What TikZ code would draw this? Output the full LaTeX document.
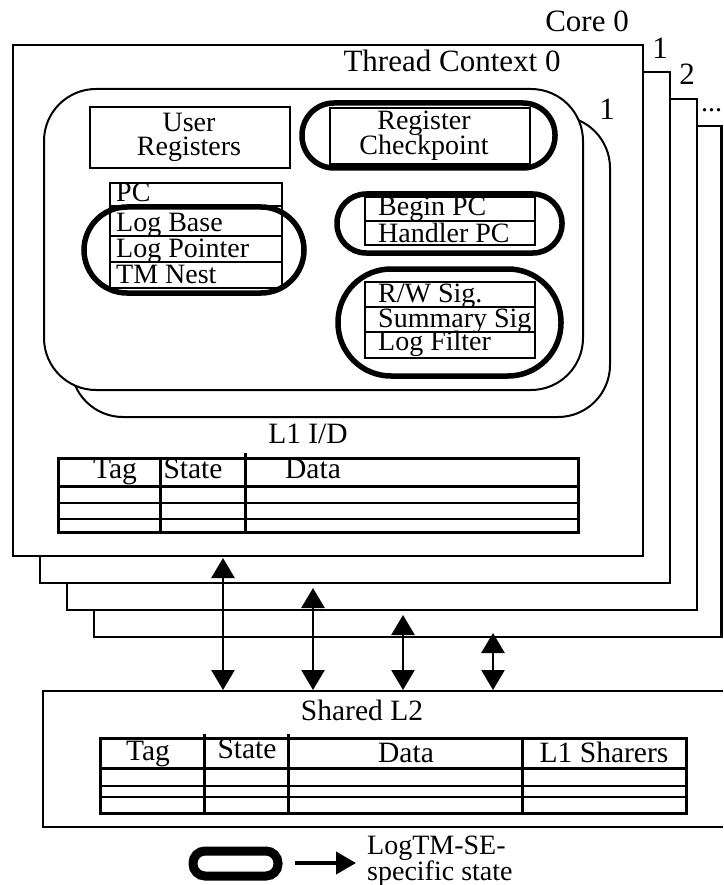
\documentclass[tikz,border=0pt]{standalone}
\usepackage{fontspec}
\setmainfont{Liberation Serif}
\usetikzlibrary{arrows.meta}
\begin{document}
\begin{tikzpicture}[x=1pt,y=-1pt,
  lbl/.style={font=\fontsize{28}{21}\selectfont, inner sep=0pt, anchor=base},
  lblw/.style={lbl, anchor=base west},
  biglbl/.style={lbl, font=\fontsize{31}{24}\selectfont},
  cachelbl/.style={lbl, font=\fontsize{29.5}{24}\selectfont},
  corebox/.style={draw=black, line width=2.2pt, fill=white},
  ctxbox/.style={draw=black, line width=2pt, fill=white, rounded corners=52pt},
  stbox/.style={draw=black, line width=2.2pt},
  rowline/.style={draw=black, line width=1.8pt},
  tblframe/.style={draw=black, line width=3pt},
  tblrow/.style={draw=black, line width=2pt},
  ltmoval/.style={draw=black, line width=5.5pt},
  bus/.style={draw=black, line width=2.8pt, {Triangle[length=20pt,width=23pt]}-{Triangle[length=20pt,width=23pt]}},
]
\useasboundingbox (0,0) rectangle (723,885);

% ---------- cores (back to front)
\draw[corebox] (94,126) rectangle (721.5,637);
\draw[corebox] (67,99) rectangle (697,610);
\draw[corebox] (40,72) rectangle (670,583);
\draw[corebox] (13,45) rectangle (643,556);

\node[biglbl] (core0lbl) at (587,32) {Core 0};
\node[biglbl] (core1lbl) at (660,59) {1};
\node[biglbl] (core2lbl) at (687,85) {2};
\node[lblw] (core3lbl) at (701,112) {...};

% ---------- thread contexts
\draw[ctxbox] (71,116) rectangle (610,417);
\draw[ctxbox] (44,89) rectangle (583,390);
\node[biglbl] (tc0lbl) at (452,72) {Thread Context 0};
\node[biglbl] (tc1lbl) at (607,120) {1};

% ---------- user registers
\draw[stbox] (90,107) rectangle (290,168);
\node[lbl] (ureg1) at (189,132) {User};
\node[lbl] (ureg2) at (189,156) {Registers};

% ---------- register checkpoint
\node[lbl] (rchk1) at (424,130) {Register};
\node[lbl] (rchk2) at (424,155) {Checkpoint};
\draw[stbox] (330,108) rectangle (530,164);
\draw[ltmoval, rounded corners=32pt] (302,103) rectangle (555,168);

% ---------- PC / log registers
\node[lblw] (pc) at (116,202) {PC};
\node[lblw] (logbase) at (116,232) {Log Base};
\node[lblw] (logptr) at (116,257) {Log Pointer};
\node[lblw] (tmnest) at (116,283) {TM Nest};
\draw[stbox] (110,183) rectangle (282,288);
\draw[rowline] (110,206) -- (282,206);
\draw[rowline] (110,236) -- (282,236);
\draw[rowline] (110,262) -- (282,262);
\draw[ltmoval, rounded corners=43pt] (84,207) rectangle (304,293);

% ---------- begin / handler PC
\node[lblw] (beginpc) at (378,216) {Begin PC};
\node[lblw] (handlerpc) at (378,242) {Handler PC};
\draw[stbox] (365,197) rectangle (535,245);
\draw[rowline] (365,221) -- (535,221);
\draw[ltmoval, rounded corners=29pt] (337,194) rectangle (562,253);

% ---------- signatures
\node[lblw] (rwsig) at (378,302) {R/W Sig.};
\node[lblw] (sumsig) at (378,327) {Summary Sig};
\node[lblw] (logfilter) at (378,350) {Log Filter};
\draw[stbox] (365,282) rectangle (535,358);
\draw[rowline] (365,307) -- (535,307);
\draw[rowline] (365,332) -- (535,332);
\draw[ltmoval, rounded corners=53pt] (338,269) rectangle (561,376);

% ---------- L1 cache
\node[cachelbl] (l1lbl) at (308,443) {L1 I/D};
\node[cachelbl] (l1tag) at (115,478) {Tag};
\node[cachelbl] (l1state) at (193,478) {State};
\node[cachelbl] (l1data) at (313,478) {Data};
\draw[tblframe] (58,458) rectangle (578,532);
\draw[tblframe] (58,486) -- (578,486);
\draw[tblrow] (58,503) -- (578,503);
\draw[tblrow] (58,519) -- (578,519);
\draw[tblframe] (160,458) -- (160,532);
\draw[tblframe] (245,453) -- (245,532);

% ---------- shared L2
\draw[line width=2.2pt] (723,691) -- (43,691) -- (43,827) -- (723,827);
\node[cachelbl] (l2lbl) at (362,720) {Shared L2};
\node[cachelbl] (l2tag) at (148,760) {Tag};
\node[cachelbl] (l2state) at (247,758) {State};
\node[cachelbl] (l2data) at (406,762) {Data};
\node[cachelbl] (l2sharers) at (604,762) {L1 Sharers};
\draw[tblframe] (100,738) rectangle (686,813);
\draw[tblframe] (100,768) -- (686,768);
\draw[tblrow] (100,786) -- (686,786);
\draw[tblrow] (100,797) -- (686,797);
\draw[tblframe] (204,734) -- (204,813);
\draw[tblframe] (288,734) -- (288,813);
\draw[tblframe] (522,738) -- (522,813);

% ---------- interconnect arrows
\coordinate (b0t) at (223,558);
\coordinate (b0b) at (223,690);
\coordinate (b1t) at (313,588);
\coordinate (b1b) at (313,690);
\coordinate (b2t) at (403,615);
\coordinate (b2b) at (403,690);
\coordinate (b3t) at (493,633);
\coordinate (b3b) at (493,690);
\draw[bus] (b0t) -- (b0b);
\draw[bus] (b1t) -- (b1b);
\draw[bus] (b2t) -- (b2b);
\draw[bus] (b3t) -- (b3b);

% ---------- legend
\draw[draw=black, line width=9pt, rounded corners=12pt] (193,851) rectangle (278,876);
\coordinate (legA) at (295,863);
\coordinate (legB) at (356,863);
\draw[draw=black, line width=4pt, -{Triangle[length=20pt,width=22pt]}] (legA) -- (legB);
\node[lblw] (leg1) at (367,854) {LogTM-SE-};
\node[lblw] (leg2) at (367,880) {specific state};
\end{tikzpicture}
\end{document}
